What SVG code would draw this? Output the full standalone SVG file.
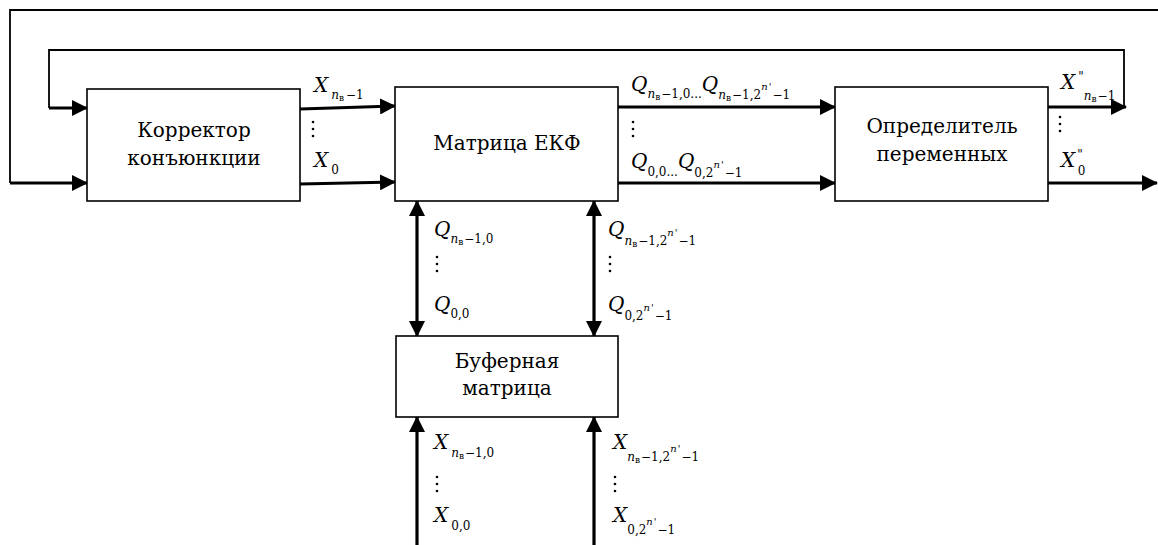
<svg xmlns="http://www.w3.org/2000/svg" width="1158" height="545" viewBox="0 0 1158 545">
<style>
text{font-family:"DejaVu Serif","Liberation Serif",serif;fill:#000}
.box{fill:#fff;stroke:#000;stroke-width:1.6}
.lbl{font-size:20px;text-anchor:middle}
.v{font-style:italic;font-size:20px}
.s{font-size:12px;font-style:normal}
.i{font-style:italic}
.ss{font-size:9px}
.sp{font-size:10px}
.thin{fill:none;stroke:#000;stroke-width:1.8}
.thick{fill:none;stroke:#000;stroke-width:3.2}
</style>
<defs>
<marker id="ah" markerUnits="userSpaceOnUse" markerWidth="17" markerHeight="16" refX="15" refY="8" orient="auto-start-reverse">
<path d="M0,0 L16,8 L0,16 z" fill="#000"/>
</marker>
<g id="vd">
<circle cx="0" cy="0" r="1.3"/>
<circle cx="0" cy="7" r="1.3"/>
<circle cx="0" cy="14" r="1.3"/>
</g>
</defs>
<rect width="1158" height="545" fill="#fff"/>

<g id="connectors">
<polyline class="thin" points="1158,10 10,10 10,183"/>
<line class="thick" x1="10" y1="183" x2="87" y2="183" marker-end="url(#ah)"/>
<polyline class="thin" points="1124,107 1124,50 49,50 49,108"/>
<line class="thick" x1="49" y1="108" x2="87" y2="108" marker-end="url(#ah)"/>
<line class="thick" x1="300" y1="109" x2="395" y2="106" marker-end="url(#ah)"/>
<line class="thick" x1="300" y1="184" x2="395" y2="182" marker-end="url(#ah)"/>
<line class="thick" x1="618" y1="107" x2="835" y2="107" marker-end="url(#ah)"/>
<line class="thick" x1="618" y1="183" x2="835" y2="183" marker-end="url(#ah)"/>
<line class="thick" x1="1048" y1="107" x2="1126" y2="107" marker-end="url(#ah)"/>
<line class="thick" x1="1048" y1="183" x2="1157" y2="183" marker-end="url(#ah)"/>
<line class="thick" x1="417" y1="201" x2="417" y2="336" marker-start="url(#ah)" marker-end="url(#ah)"/>
<line class="thick" x1="594" y1="201" x2="594" y2="336" marker-start="url(#ah)" marker-end="url(#ah)"/>
<line class="thick" x1="417" y1="545" x2="417" y2="417" marker-end="url(#ah)"/>
<line class="thick" x1="594" y1="545" x2="594" y2="417" marker-end="url(#ah)"/>
</g>

<g id="corrector">
<rect class="box" x="87" y="89" width="213" height="112"/>
<text class="lbl" x="194" y="137">Корректор</text>
<text class="lbl" x="194" y="165">конъюнкции</text>
</g>

<g id="matrix">
<rect class="box" x="395" y="87" width="223" height="114"/>
<text class="lbl" x="507" y="150">Матрица ЕКФ</text>
</g>

<g id="determiner">
<rect class="box" x="835" y="87" width="213" height="114"/>
<text class="lbl" x="942" y="133">Определитель</text>
<text class="lbl" x="942" y="161">переменных</text>
</g>

<g id="buffer">
<rect class="box" x="396" y="336" width="222" height="81"/>
<text class="lbl" x="507" y="368">Буферная</text>
<text class="lbl" x="507" y="395">матрица</text>
</g>

<g id="labels">
<text class="v" x="314" y="92">X<tspan class="s i" dx="3" dy="7">n</tspan><tspan class="s ss" dy="2">в</tspan><tspan class="s" dx="2" dy="-2">−1</tspan></text>
<use href="#vd" x="313" y="122"/>
<text class="v" x="314" y="167">X<tspan class="s" dx="3" dy="7">0</tspan></text>

<text class="v" x="631" y="91">Q<tspan class="s i" dy="7">n</tspan><tspan class="s ss" dy="2">в</tspan><tspan class="s" dx="1" dy="-2">−1,0...</tspan><tspan dy="-7">Q</tspan><tspan class="s i" dy="8">n</tspan><tspan class="s ss" dy="2">в</tspan><tspan class="s" dx="1" dy="-2">−1,2</tspan><tspan class="s sp i" dy="-9">n</tspan><tspan class="s sp" dx="1">'</tspan><tspan class="s" dx="1" dy="9">−1</tspan></text>
<use href="#vd" x="633" y="122"/>
<text class="v" x="631" y="168">Q<tspan class="s" dy="8">0,0...</tspan><tspan dy="-8">Q</tspan><tspan class="s" dy="9">0,2</tspan><tspan class="s sp i" dy="-9">n</tspan><tspan class="s sp" dx="1">'</tspan><tspan class="s" dx="1" dy="9">−1</tspan></text>

<text class="v" x="1061" y="89">X<tspan class="s" dx="3" dy="-8">"</tspan><tspan class="s i" dx="0" dy="19">n</tspan><tspan class="s ss" dy="2">в</tspan><tspan class="s" dx="1" dy="-2">−1</tspan></text>
<use href="#vd" x="1060" y="117"/>
<text class="v" x="1061" y="167">X<tspan class="s" dx="2" dy="-8">"</tspan><tspan class="s" dx="-5" dy="16">0</tspan></text>

<text class="v" x="434" y="236">Q<tspan class="s i" dy="7">n</tspan><tspan class="s ss" dy="2">в</tspan><tspan class="s" dx="1" dy="-2">−1,0</tspan></text>
<use href="#vd" x="437" y="257"/>
<text class="v" x="434" y="311">Q<tspan class="s" dy="7">0,0</tspan></text>

<text class="v" x="608" y="236">Q<tspan class="s i" dy="9">n</tspan><tspan class="s ss" dy="2">в</tspan><tspan class="s" dx="1" dy="-2">−1,2</tspan><tspan class="s sp i" dy="-9">n</tspan><tspan class="s sp" dx="1">'</tspan><tspan class="s" dx="1" dy="9">−1</tspan></text>
<use href="#vd" x="610" y="257"/>
<text class="v" x="608" y="311">Q<tspan class="s" dy="9">0,2</tspan><tspan class="s sp i" dy="-9">n</tspan><tspan class="s sp" dx="1">'</tspan><tspan class="s" dx="1" dy="9">−1</tspan></text>

<text class="v" x="434" y="449">X<tspan class="s i" dx="3" dy="8">n</tspan><tspan class="s ss" dy="2">в</tspan><tspan class="s" dx="1" dy="-2">−1,0</tspan></text>
<use href="#vd" x="437" y="477"/>
<text class="v" x="434" y="522">X<tspan class="s" dx="3" dy="8">0,0</tspan></text>

<text class="v" x="613" y="449">X<tspan class="s i" dx="0" dy="12">n</tspan><tspan class="s ss" dy="2">в</tspan><tspan class="s" dx="1" dy="-2">−1,2</tspan><tspan class="s sp i" dy="-9">n</tspan><tspan class="s sp" dx="1">'</tspan><tspan class="s" dx="1" dy="9">−1</tspan></text>
<use href="#vd" x="615" y="477"/>
<text class="v" x="613" y="522">X<tspan class="s" dx="0" dy="12">0,2</tspan><tspan class="s sp i" dy="-9">n</tspan><tspan class="s sp" dx="1">'</tspan><tspan class="s" dx="1" dy="9">−1</tspan></text>
</g>
</svg>
